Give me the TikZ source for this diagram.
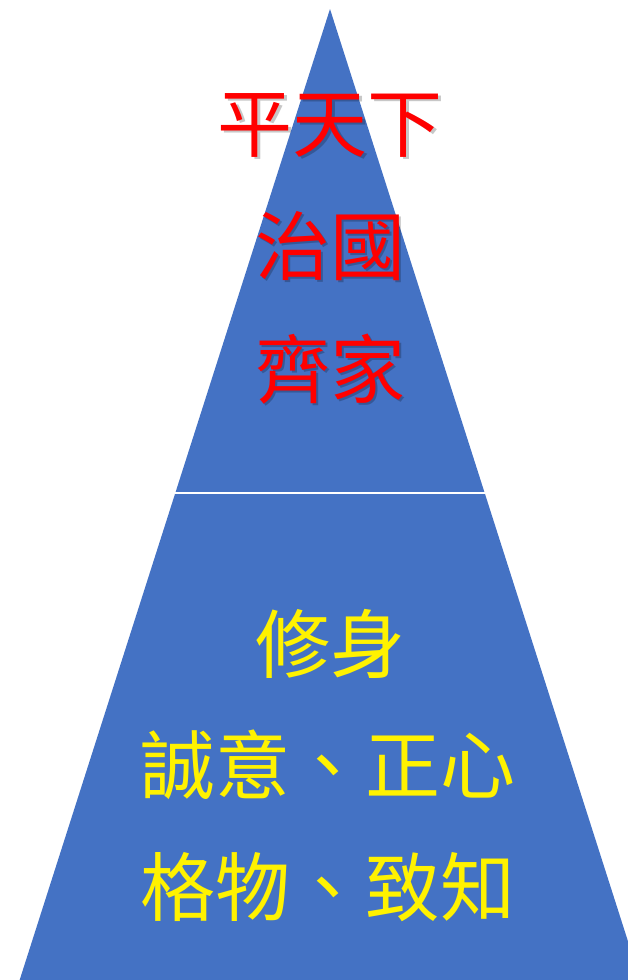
\documentclass[tikz,border=0pt]{standalone}
\usepackage{fontspec}
\newfontfamily\cjk{Noto Sans CJK TC}
\definecolor{pyrblue}{HTML}{4472C4}
\tikzset{
  bigcjk/.style={font=\cjk\fontsize{75}{82}\selectfont, inner sep=0pt, anchor=center},
  redtxt/.style={bigcjk, text=red},
  shadowtxt/.style={bigcjk, text=black, opacity=0.22},
  yeltxt/.style={bigcjk, text=yellow},
  divider/.style={draw=white, line width=2.5pt}
}
\begin{document}
\begin{tikzpicture}[x=1pt,y=-1pt]
\useasboundingbox (0,0) rectangle (628,980);
\begin{scope}
  \clip (0,0) rectangle (628,980);
  \fill[pyrblue] (330,9) -- (19,982) -- (641,982) -- cycle;
\end{scope}
\coordinate (dl) at (175,493);
\coordinate (dr) at (485,493);
\draw[divider] (dl) -- (dr);
% red texts with soft shadow
\node[shadowtxt] (s1) at (332.5,127.5) {平天下};
\node[redtxt] (t1) at (330,125) {平天下};
\node[shadowtxt] (s2) at (332.5,248.5) {治國};
\node[redtxt] (t2) at (330,246) {治國};
\node[shadowtxt] (s3) at (332.5,371.5) {齊家};
\node[redtxt] (t3) at (330,369) {齊家};
% yellow texts
\node[yeltxt] (y1) at (330,644) {修身};
\node[yeltxt] (y2) at (328,765) {誠意、正心};
\node[yeltxt] (y3) at (328,887) {格物、致知};
\end{tikzpicture}
\end{document}
